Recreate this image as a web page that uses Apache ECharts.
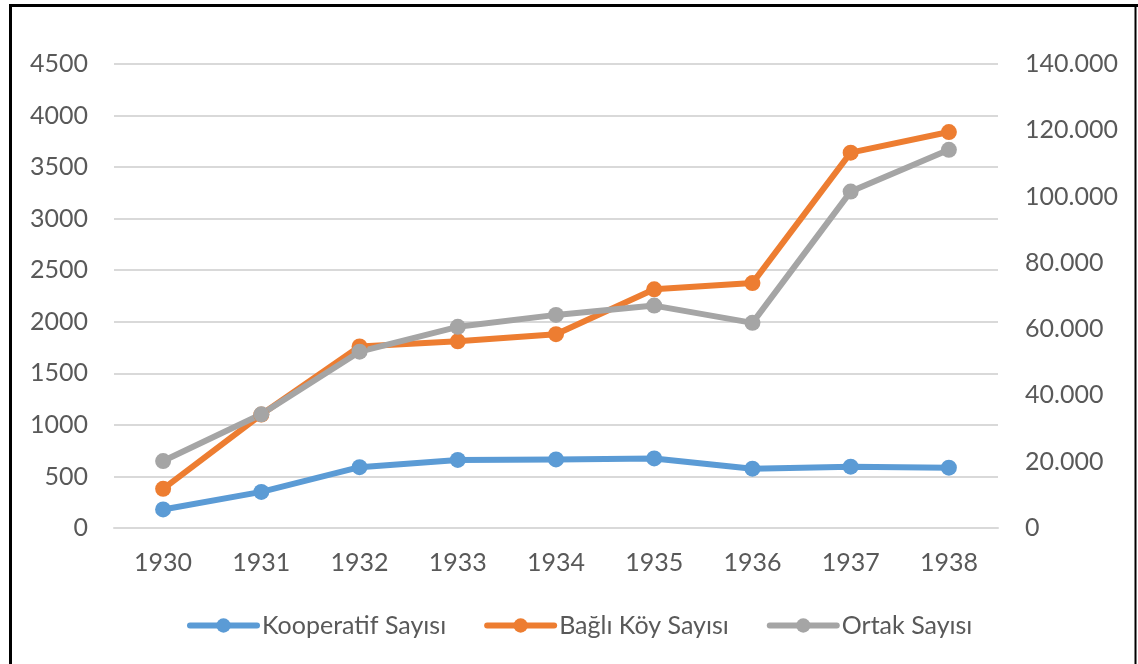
<!DOCTYPE html>
<html>
<head>
<meta charset="utf-8">
<script src="https://cdn.jsdelivr.net/npm/echarts@6/dist/echarts.min.js"></script>
<style>
html,body{margin:0;padding:0;background:#fff;}
#chart{width:1138px;height:664px;}
</style>
</head>
<body>
<div id="chart"></div>
<script>
const years = ['1930','1931','1932','1933','1934','1935','1936','1937','1938'];
const kooperatifSayisi = [180, 350, 590, 660, 665, 675, 575, 595, 585];
const bagliKoySayisi = [380, 1100, 1760, 1810, 1880, 2315, 2375, 3640, 3840];
const ortakSayisi = [20200, 34300, 53200, 60700, 64300, 67100, 61900, 101500, 114100];
const seriesNames = ['Kooperatif Sayısı', 'Bağlı Köy Sayısı', 'Ortak Sayısı'];
const colors = ['#5b9bd5', '#ed7d31', '#a5a5a5'];

const FONT = 'Lato';
const FS = 25;
const TXT = '#595959';
const chart = echarts.init(document.getElementById('chart'), null, {renderer: 'canvas'});

function fmtThousands(v) {
  if (v === 0) return '0';
  return String(v).replace(/\B(?=(\d{3})+(?!\d))/g, '.');
}

function mkSeries(name, data, color, axisIdx) {
  return {
    name: name,
    type: 'line',
    yAxisIndex: axisIdx,
    data: data,
    symbol: 'circle',
    symbolSize: 16,
    lineStyle: {color: color, width: 6, cap: 'round', join: 'round'},
    itemStyle: {color: color},
    emphasis: {disabled: true},
    animation: false
  };
}

chart.setOption({
  backgroundColor: '#fff',
  animation: false,
  textStyle: {fontFamily: FONT},
  grid: {left: 114, right: 140, top: 64, bottom: 136},
  legend: {
    data: seriesNames,
    left: 182,
    top: 608,
    itemWidth: 67,
    itemHeight: 18,
    itemGap: 38,
    lineStyle: {width: 6},
    textStyle: {fontFamily: FONT, fontSize: FS, color: TXT}
  },
  xAxis: {
    type: 'category',
    data: years,
    boundaryGap: true,
    axisLine: {show: true, lineStyle: {color: '#d9d9d9', width: 2}},
    axisTick: {show: false},
    axisLabel: {fontFamily: FONT, fontSize: FS, color: TXT, margin: 22}
  },
  yAxis: [
    {
      type: 'value',
      min: 0, max: 4500, interval: 500,
      axisLine: {show: false},
      axisTick: {show: false},
      splitLine: {lineStyle: {color: '#d9d9d9', width: 2}},
      axisLabel: {fontFamily: FONT, fontSize: FS, color: TXT, margin: 26, formatter: function (v) { return String(v); }}
    },
    {
      type: 'value',
      min: 0, max: 140000, interval: 20000,
      position: 'right',
      axisLine: {show: false},
      axisTick: {show: false},
      splitLine: {show: false},
      axisLabel: {fontFamily: FONT, fontSize: FS, color: TXT, margin: 27, formatter: fmtThousands}
    }
  ],
  series: [
    mkSeries(seriesNames[0], kooperatifSayisi, colors[0], 0),
    mkSeries(seriesNames[1], bagliKoySayisi, colors[1], 0),
    mkSeries(seriesNames[2], ortakSayisi, colors[2], 1)
  ],
  graphic: [
    {type: 'line', shape: {x1: 10.5, y1: 5.5, x2: 10.5, y2: 664}, style: {stroke: '#000', lineWidth: 3}, silent: true},
    {type: 'line', shape: {x1: 9, y1: 5.5, x2: 1138, y2: 5.5}, style: {stroke: '#000', lineWidth: 3}, silent: true},
    {type: 'line', shape: {x1: 1135.5, y1: 5, x2: 1135.5, y2: 664}, style: {stroke: '#000', lineWidth: 2}, silent: true}
  ]
});
</script>
</body>
</html>
